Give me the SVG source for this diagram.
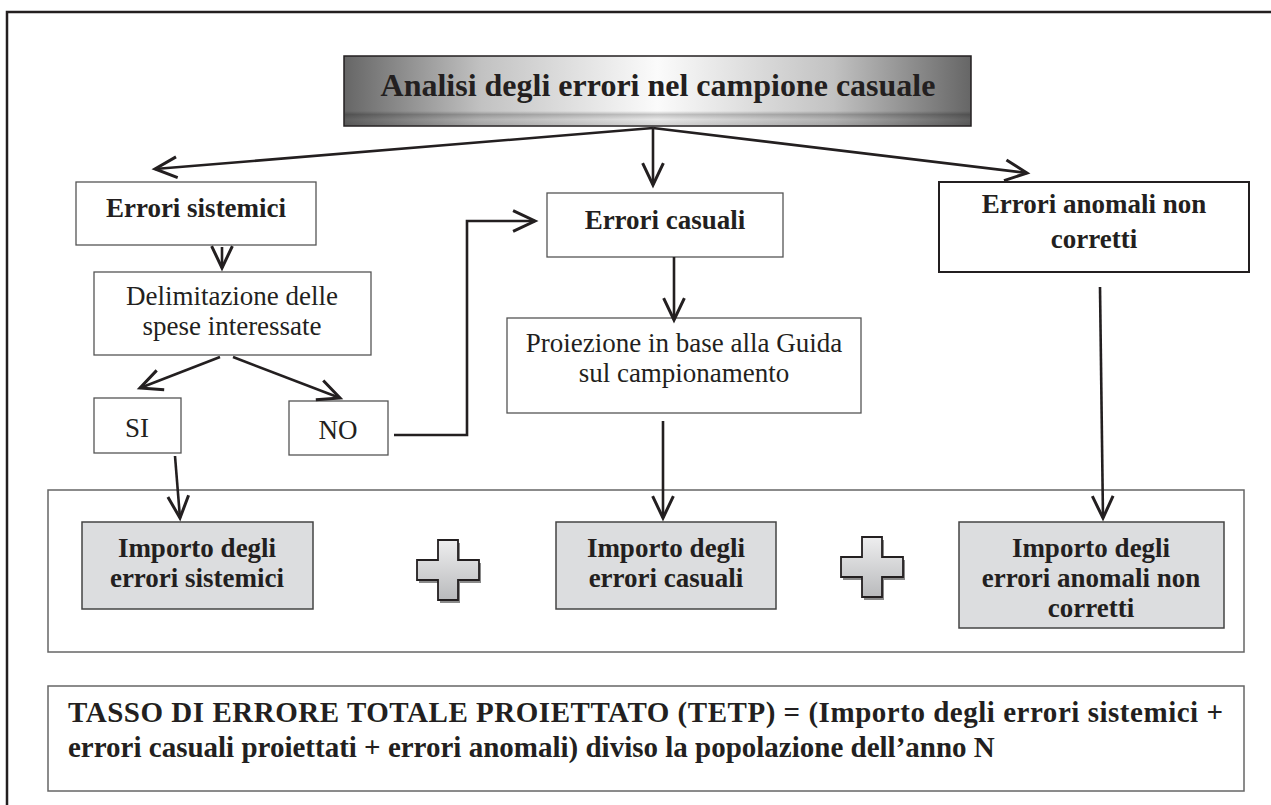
<svg xmlns="http://www.w3.org/2000/svg" width="1271" height="805" viewBox="0 0 1271 805">
<defs>
<style>
.t{font-family:"Liberation Serif","Times New Roman",serif;fill:#231f20;text-anchor:middle}
.b{font-weight:bold}
.s26{font-size:27px}
.box{fill:#fff;stroke:#555;stroke-width:1.3}
.gbox{fill:#dcdddf;stroke:#444;stroke-width:1.5}
.frame{fill:none;stroke:#666;stroke-width:1.5}
.c{fill:none;stroke:#231f20;stroke-width:2.6}
</style>
<marker id="ah" markerUnits="userSpaceOnUse" markerWidth="30" markerHeight="30" viewBox="-22 -12 26 24" refX="0" refY="0" orient="auto">
<path d="M-19,-9 L0,0 L-19,9" fill="none" stroke="#231f20" stroke-width="2.6" stroke-linejoin="miter"/>
</marker>
<linearGradient id="tg" x1="0" y1="0" x2="1" y2="0">
<stop offset="0" stop-color="#666"/>
<stop offset="0.22" stop-color="#c2c2c2"/>
<stop offset="0.5" stop-color="#fbfbfb"/>
<stop offset="0.78" stop-color="#c2c2c2"/>
<stop offset="1" stop-color="#666"/>
</linearGradient>
<linearGradient id="tb" x1="0" y1="0" x2="0" y2="1">
<stop offset="0" stop-color="#000" stop-opacity="0"/>
<stop offset="0.25" stop-color="#000" stop-opacity="0.22"/>
<stop offset="0.6" stop-color="#000" stop-opacity="0.08"/>
<stop offset="1" stop-color="#000" stop-opacity="0.15"/>
</linearGradient>
<linearGradient id="pg" x1="0" y1="0" x2="0" y2="1">
<stop offset="0" stop-color="#eeeeef"/>
<stop offset="1" stop-color="#b9babc"/>
</linearGradient>
<path id="plus" d="M21,0 H41 V20 H62 V40 H41 V60 H21 V40 H0 V20 H21 Z"/>
</defs>
<rect width="1271" height="805" fill="#fff"/>
<path d="M7,810 V12 H1280" fill="none" stroke="#231f20" stroke-width="2.5"/>

<g id="title">
<rect x="344" y="56" width="627" height="70" fill="url(#tg)" stroke="#231f20" stroke-width="1.5"/>
<rect x="345" y="111" width="625" height="14" fill="url(#tb)"/>
<text class="t b" x="658" y="96" font-size="32">Analisi degli errori nel campione casuale</text>
</g>

<g id="errori-sistemici">
<rect class="box" x="76" y="182" width="240" height="63"/>
<text class="t b s26" x="196" y="217">Errori sistemici</text>
</g>

<g id="errori-casuali">
<rect class="box" x="547" y="193" width="236" height="64"/>
<text class="t b s26" x="665" y="229">Errori casuali</text>
</g>

<g id="errori-anomali">
<rect x="939" y="182" width="310" height="90" fill="#fff" stroke="#231f20" stroke-width="2"/>
<text class="t b s26" x="1094" y="213">Errori anomali non</text>
<text class="t b s26" x="1094" y="248">corretti</text>
</g>

<g id="delimitazione">
<rect class="box" x="94" y="272" width="277" height="83"/>
<text class="t s26" x="232" y="305">Delimitazione delle</text>
<text class="t s26" x="232" y="335">spese interessate</text>
</g>

<g id="si">
<rect class="box" x="94" y="398" width="87" height="55"/>
<text class="t s26" x="137" y="437">SI</text>
</g>

<g id="no">
<rect class="box" x="289" y="401" width="99" height="54"/>
<text class="t s26" x="338" y="439">NO</text>
</g>

<g id="proiezione">
<rect class="box" x="507" y="318" width="354" height="95"/>
<text class="t s26" x="684" y="352">Proiezione in base alla Guida</text>
<text class="t s26" x="684" y="382">sul campionamento</text>
</g>

<g id="importi-container">
<rect class="frame" x="48" y="490" width="1196" height="162"/>
</g>

<g id="importo-sistemici">
<rect class="gbox" x="82" y="522" width="231" height="87"/>
<text class="t b s26" x="197" y="557">Importo degli</text>
<text class="t b s26" x="197" y="587">errori sistemici</text>
</g>

<g id="plus-1">
<use href="#plus" transform="translate(419,543)" fill="#8a8a8a"/>
<use href="#plus" transform="translate(417,540)" fill="url(#pg)" stroke="#231f20" stroke-width="1.8"/>
</g>

<g id="importo-casuali">
<rect class="gbox" x="556" y="522" width="220" height="87"/>
<text class="t b s26" x="666" y="557">Importo degli</text>
<text class="t b s26" x="666" y="587">errori casuali</text>
</g>

<g id="plus-2">
<use href="#plus" transform="translate(843,540)" fill="#8a8a8a"/>
<use href="#plus" transform="translate(841,537)" fill="url(#pg)" stroke="#231f20" stroke-width="1.8"/>
</g>

<g id="importo-anomali">
<rect class="gbox" x="959" y="522" width="265" height="106"/>
<text class="t b s26" x="1091" y="557">Importo degli</text>
<text class="t b s26" x="1091" y="587">errori anomali non</text>
<text class="t b s26" x="1091" y="617">corretti</text>
</g>

<g id="tetp">
<rect class="frame" x="48" y="686" width="1196" height="105"/>
<text class="t b" font-size="29" x="68" y="722" style="text-anchor:start" textLength="1155" lengthAdjust="spacing">TASSO DI ERRORE TOTALE PROIETTATO (TETP) = (Importo degli errori sistemici +</text>
<text class="t b" font-size="29" x="68" y="757" style="text-anchor:start">errori casuali proiettati + errori anomali) diviso la popolazione dell’anno N</text>
</g>

<g id="connectors">
<path class="c" d="M653,128 L155,169" marker-end="url(#ah)"/>
<path class="c" d="M653,128 L653,185" marker-end="url(#ah)"/>
<path class="c" d="M653,128 L1027,173" marker-end="url(#ah)"/>
<path class="c" d="M222,247 L222,268" marker-end="url(#ah)"/>
<path class="c" d="M220,357 L140,388" marker-end="url(#ah)"/>
<path class="c" d="M233,357 L340,398" marker-end="url(#ah)"/>
<path class="c" d="M394,435 H467 V221 H535" marker-end="url(#ah)"/>
<path class="c" d="M674,257 L674,320" marker-end="url(#ah)"/>
<path class="c" d="M175,456 L180,518" marker-end="url(#ah)"/>
<path class="c" d="M663,421 L663,518" marker-end="url(#ah)"/>
<path class="c" d="M1100,287 L1103,518" marker-end="url(#ah)"/>
</g>
</svg>
